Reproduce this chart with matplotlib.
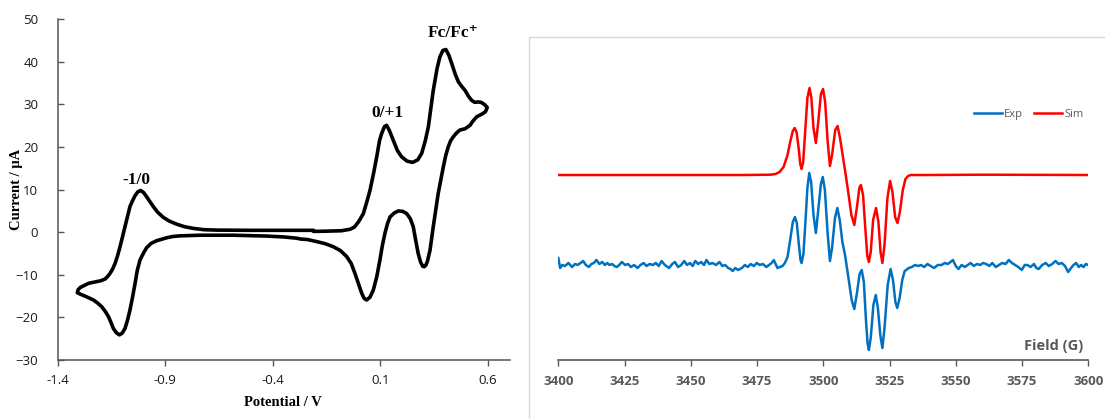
import matplotlib
matplotlib.use("Agg")
import matplotlib.pyplot as plt
from matplotlib.patches import Rectangle

# ---------------- data: cyclic voltammogram ----------------
cv_potential = [
    -0.21, -0.15, -0.08, -0.04, -0.02, 0.0, 0.022, 0.04, 0.053, 0.07, 0.084, 0.097, 0.107, 0.12, 0.130,
    0.142, 0.161, 0.18, 0.2, 0.225, 0.251, 0.275, 0.293, 0.31, 0.324, 0.347, 0.365, 0.378, 0.392, 0.406,
    0.42, 0.433, 0.45, 0.464, 0.48, 0.495, 0.51, 0.525, 0.54, 0.555, 0.57, 0.585, 0.598,
    0.59, 0.575, 0.549, 0.53, 0.518, 0.495, 0.471, 0.455, 0.440, 0.428, 0.417, 0.405, 0.394, 0.382,
    0.370, 0.358, 0.347, 0.332, 0.32, 0.313, 0.305, 0.298, 0.288, 0.277, 0.265, 0.254, 0.24, 0.223,
    0.205, 0.184, 0.165, 0.146, 0.134, 0.122, 0.11, 0.099, 0.084, 0.068, 0.052, 0.037, 0.025, 0.014,
    0.0, -0.017, -0.035, -0.056, -0.085, -0.118, -0.155, -0.195, -0.24, -0.27, -0.288, -0.31, -0.35,
    -0.428, -0.5, -0.583, -0.66, -0.738, -0.8, -0.831, -0.865, -0.893, -0.92, -0.94, -0.965, -0.986,
    -1.0, -1.017, -1.03, -1.04, -1.052, -1.064, -1.075, -1.087, -1.10, -1.113, -1.127, -1.141, -1.152,
    -1.164, -1.18, -1.195, -1.215, -1.234, -1.255, -1.273, -1.292, -1.309,
    -1.305, -1.296, -1.28, -1.257, -1.238, -1.219, -1.2, -1.18, -1.168, -1.157, -1.145, -1.133, -1.122,
    -1.110, -1.098, -1.087, -1.075, -1.064, -1.052, -1.04, -1.027, -1.014, -1.0, -0.986, -0.97, -0.955,
    -0.935, -0.909, -0.88, -0.847, -0.81, -0.769, -0.72, -0.66, -0.505, -0.35, -0.21,
]
cv_current = [
    0.2, 0.25, 0.35, 0.7, 1.2, 2.5, 4.4, 7.5, 9.9, 14.0, 17.7, 21.5, 23.2, 24.8, 25.1,
    24.0, 21.6, 19.2, 17.7, 16.7, 16.4, 17.0, 18.5, 21.5, 24.7, 33.3, 38.5, 41.2, 42.7, 42.9,
    41.5, 39.6, 37.0, 35.3, 34.2, 33.3, 32.0, 31.0, 30.5, 30.6, 30.5, 30.0, 29.3,
    28.3, 27.8, 27.1, 26.0, 25.1, 24.3, 24.0, 23.3, 22.4, 21.5, 20.1, 18.0, 15.4, 12.3,
    9.1, 5.0, 1.3, -4.2, -6.8, -7.7, -8.1, -8.0, -7.0, -5.0, -1.8, 1.3, 3.2, 4.4,
    4.9, 5.0, 4.5, 3.6, 2.0, -0.3, -3.2, -6.5, -10.5, -13.6, -15.3, -15.9, -15.5, -14.3,
    -12.2, -9.7, -7.3, -5.7, -4.3, -3.4, -2.7, -2.2, -1.7, -1.6, -1.4, -1.3, -1.1,
    -0.9, -0.8, -0.7, -0.7, -0.7, -0.8, -0.85, -1.0, -1.3, -1.7, -2.0, -2.6, -3.6,
    -4.8, -6.5, -9.0, -12.0, -15.3, -18.3, -20.6, -22.6, -23.7, -24.1, -23.6, -22.6, -21.2,
    -19.8, -18.5, -17.5, -16.6, -15.9, -15.4, -15.0, -14.6, -14.2,
    -13.5, -13.0, -12.6, -12.0, -11.8, -11.6, -11.4, -11.0, -10.4, -9.7, -8.7, -7.3, -5.6,
    -3.4, -1.0, 1.3, 3.8, 6.0, 7.4, 8.6, 9.5, 9.8, 9.3, 8.3, 7.1, 6.0,
    4.7, 3.5, 2.6, 1.9, 1.3, 0.9, 0.6, 0.5, 0.45, 0.45, 0.45,
]
cv_xticks = [-1.4, -0.9, -0.4, 0.1, 0.6]
cv_xticklabels = ["-1.4", "-0.9", "-0.4", "0.1", "0.6"]
cv_yticks = [-30, -20, -10, 0, 10, 20, 30, 40, 50]
cv_peak_labels = ["-1/0", "0/+1", "Fc/Fc⁺"]
cv_peak_x = [-1.033, 0.133, 0.44]
cv_peak_y = [12.3, 28.1, 46.7]

# ---------------- data: EPR spectra ----------------
exp_field = [
    3400, 3400.7, 3401.5, 3402.5, 3403.8, 3405.2, 3406.3, 3407.3, 3408.4, 3409.4, 3410.4, 3411.5, 3412.5,
    3413.4, 3414.4, 3415.5, 3416.6, 3417.6, 3418.5, 3419.3, 3420.3, 3421.2, 3422.1, 3423.0, 3424.0,
    3425.2, 3426.3, 3427.4, 3428.6, 3429.9, 3431.0, 3432.2, 3433.3, 3434.5, 3435.7, 3436.8, 3437.9,
    3439.0, 3440.2, 3441.8, 3443.0, 3444.0, 3445.2, 3446.4, 3447.5, 3448.6, 3449.7, 3450.7, 3451.7,
    3452.8, 3453.9, 3455.0, 3455.9, 3457.0, 3458.2, 3459.5, 3460.8, 3461.9, 3463.0, 3464.1, 3465.0,
    3465.8, 3466.8, 3467.8, 3469.3, 3470.4, 3471.5, 3472.6, 3473.8, 3474.9, 3476.0, 3477.2, 3478.5,
    3479.5, 3480.5, 3481.3, 3482.0, 3482.7, 3483.6, 3484.6, 3485.5,
    3486.5, 3487.5, 3488.5, 3489.3, 3490.0, 3490.8, 3491.4, 3491.8, 3492.5, 3493.3, 3494.0, 3494.7,
    3495.4, 3496.3, 3497.2, 3498.1, 3499.1, 3499.8, 3500.6, 3501.6, 3502.5, 3503.3, 3504.4, 3505.3,
    3506.2, 3507.2, 3508.2, 3509.5, 3510.7, 3511.7, 3512.7, 3513.7, 3514.5, 3515.3, 3516.1, 3516.7,
    3517.2, 3517.9, 3518.9, 3519.8, 3520.6, 3521.5, 3522.3, 3523.1, 3524.3, 3525.4, 3526.3, 3527.2,
    3527.9, 3528.8, 3529.8, 3530.7, 3531.3, 3532.2,
    3533.4, 3534.6, 3535.8, 3536.9, 3538.1, 3539.3, 3540.5, 3541.8, 3543.2, 3544.6, 3545.8, 3547.0,
    3548.0, 3548.9, 3550.0, 3551.0, 3552.2, 3553.4, 3554.5, 3555.6, 3556.8, 3558.0, 3559.2, 3560.3,
    3561.5, 3562.6, 3563.8, 3565.1, 3566.3, 3567.5, 3568.8, 3570.0, 3571.2, 3572.4, 3573.6, 3574.9,
    3576.0, 3577.0, 3578.2, 3579.5, 3580.4, 3581.3, 3582.6, 3583.9, 3585.1, 3586.4, 3587.6, 3588.8,
    3590.0, 3591.2, 3592.4, 3593.5, 3594.4, 3595.4, 3596.4, 3597.3, 3598.2, 3599.1, 3600.0,
]
exp_signal = [
    102, 92, 95, 94, 97, 93, 96, 95, 97, 99, 95, 93, 96,
    97, 100, 96, 98, 95, 97, 95, 96, 94, 93, 95, 98,
    95, 96, 93, 95, 92, 95, 97, 94, 96, 95, 97, 94,
    99, 95, 92, 96, 98, 93, 95, 99, 95, 97, 94, 99,
    96, 98, 95, 100, 96, 97, 95, 98, 94, 95, 92, 91,
    89, 92, 90, 92, 95, 93, 96, 94, 97, 95, 96, 93,
    95, 97, 100, 96, 92, 93, 94, 97,
    103, 120, 138, 143, 137, 115, 100, 97, 106, 140, 172, 187,
    178, 145, 127, 150, 176, 183, 170, 128, 99, 112, 142, 152,
    140, 118, 105, 82, 60, 51, 67, 86, 90, 78, 40, 17,
    10, 22, 55, 65, 52, 25, 12, 32, 75, 91, 80, 58,
    52, 62, 80, 89, 90, 92,
    93, 95, 94, 95, 93, 96, 94, 92, 95, 95, 97, 96,
    98, 100, 94, 91, 95, 93, 95, 97, 94, 96, 95, 97,
    96, 94, 97, 93, 95, 97, 96, 100, 97, 95, 93, 90,
    95, 95, 93, 96, 92, 91, 95, 97, 94, 96, 99, 96,
    97, 94, 88, 92, 95, 97, 93, 95, 93, 96, 95,
]
sim_field = [
    3400, 3470, 3480, 3482, 3483.5, 3485, 3486.5, 3487.5, 3488.5, 3489.2, 3489.9, 3490.7, 3491.3,
    3491.8, 3492.4, 3493.2, 3494.0, 3494.8, 3495.5, 3496.3, 3497.2, 3498.1, 3499.1, 3499.9, 3500.7,
    3501.6, 3502.5, 3503.3, 3504.5, 3505.4, 3506.3, 3507.3, 3508.3, 3509.4, 3510.6, 3511.7, 3512.8,
    3513.6, 3514.2, 3515.0, 3515.9, 3516.6, 3517.2, 3517.9, 3518.8, 3519.9, 3520.8, 3521.6, 3522.3,
    3523.1, 3524.2, 3525.2, 3526.1, 3527.1, 3528.0, 3528.9, 3530.0, 3531.0, 3532.0, 3533.0, 3540,
    3560, 3600,
]
sim_signal = [
    185, 185, 185.3, 186, 188, 193, 205, 218, 229, 232, 228, 212, 196,
    191, 198, 230, 262, 272, 262, 232, 217, 238, 266, 271, 258,
    220, 194, 205, 230, 234, 222, 205, 188, 168, 145, 135, 155,
    172, 175, 165, 130, 104, 98, 108, 140, 152, 138, 108, 97,
    115, 162, 179, 168, 143, 137, 148, 170, 181, 184, 185, 185,
    185.3, 185,
]
epr_xticks = [3400, 3425, 3450, 3475, 3500, 3525, 3550, 3575, 3600]
series_names = ["Exp", "Sim"]

# ---------------- figure ----------------
W, H = 1105, 419
fig = plt.figure(figsize=(W / 100, H / 100), dpi=100)
fig.patch.set_facecolor("white")

tick_font = "Open Sans"
serif_font = ["Liberation Serif", "DejaVu Serif"]

# ---- left panel ----
ax1 = fig.add_axes([57.7 / W, 59 / H, (510 - 57.7) / W, 340.7 / H])
ax1.plot(cv_potential, cv_current, color="black", lw=2.6,
         solid_joinstyle="round", solid_capstyle="round")
ax1.set_xlim(-1.4, 0.704)
ax1.set_ylim(-30, 50)
ax1.set_xticks(cv_xticks)
ax1.set_xticklabels(cv_xticklabels)
ax1.set_yticks(cv_yticks)
for s in ["top", "right"]:
    ax1.spines[s].set_visible(False)
for s in ["left", "bottom"]:
    ax1.spines[s].set_color("#555555")
    ax1.spines[s].set_linewidth(1.1)
ax1.tick_params(axis="x", direction="out", length=4, width=1, color="#555555",
                pad=6, labelsize=9.5, labelcolor="#1a1a1a")
ax1.tick_params(axis="y", direction="in", length=4, width=1, color="#555555",
                pad=14, labelsize=9.5, labelcolor="#1a1a1a")
for lab in ax1.get_xticklabels() + ax1.get_yticklabels():
    lab.set_fontfamily(tick_font)
ax1.set_xlabel("Potential / V", fontfamily=serif_font, fontweight="bold", fontsize=10.5)
ax1.set_ylabel("Current / μA", fontfamily=serif_font, fontweight="bold", fontsize=10.5)
ax1.xaxis.set_label_coords(0.498, -0.106)
ax1.yaxis.set_label_coords(-0.077, 0.5)
for txt, px, py in zip(cv_peak_labels, cv_peak_x, cv_peak_y):
    ax1.text(px, py, txt, ha="center", va="center", fontfamily=serif_font,
             fontweight="bold", fontsize=12.5)

# ---- right panel frame ----
fig.patches.append(Rectangle((529.3 / W, -0.2), 0.7, 1.2 - 37.3 / H,
                             transform=fig.transFigure, fill=False,
                             edgecolor="#d9d9d9", lw=1.0, clip_on=False))

# ---- right panel ----
ax2 = fig.add_axes([558.3 / W, 59 / H, 530 / W, 300 / H])
ax2.patch.set_alpha(0)
ax2.plot(exp_field, exp_signal, color="#0070C0", lw=1.8, label=series_names[0],
         solid_joinstyle="round")
ax2.plot(sim_field, sim_signal, color="#FF0000", lw=1.8, label=series_names[1],
         solid_joinstyle="round")
ax2.set_xlim(3400, 3600)
ax2.set_ylim(0, 300)
ax2.set_xticks(epr_xticks)
ax2.set_yticks([])
for s in ["top", "right", "left"]:
    ax2.spines[s].set_visible(False)
ax2.spines["bottom"].set_color("#595959")
ax2.spines["bottom"].set_linewidth(1.2)
ax2.tick_params(axis="x", direction="out", length=4, width=1, color="#595959",
                pad=7, labelsize=9.5, labelcolor="#595959")
for lab in ax2.get_xticklabels():
    lab.set_fontfamily(tick_font)
    lab.set_fontweight("bold")
ax2.text(0.990, 0.047, "Field (G)", transform=ax2.transAxes, ha="right", va="center",
         fontfamily=tick_font, fontweight="bold", fontsize=10.5, color="#595959")
leg = ax2.legend(loc="center left", bbox_to_anchor=(0.785, 0.819), ncol=2,
                 frameon=False, fontsize=8, handlelength=2.5, handletextpad=0.2,
                 columnspacing=1.0, borderpad=0, borderaxespad=0)
for t in leg.get_texts():
    t.set_color("#595959")
    t.set_fontfamily(tick_font)

fig.savefig("out.png", dpi=100)
